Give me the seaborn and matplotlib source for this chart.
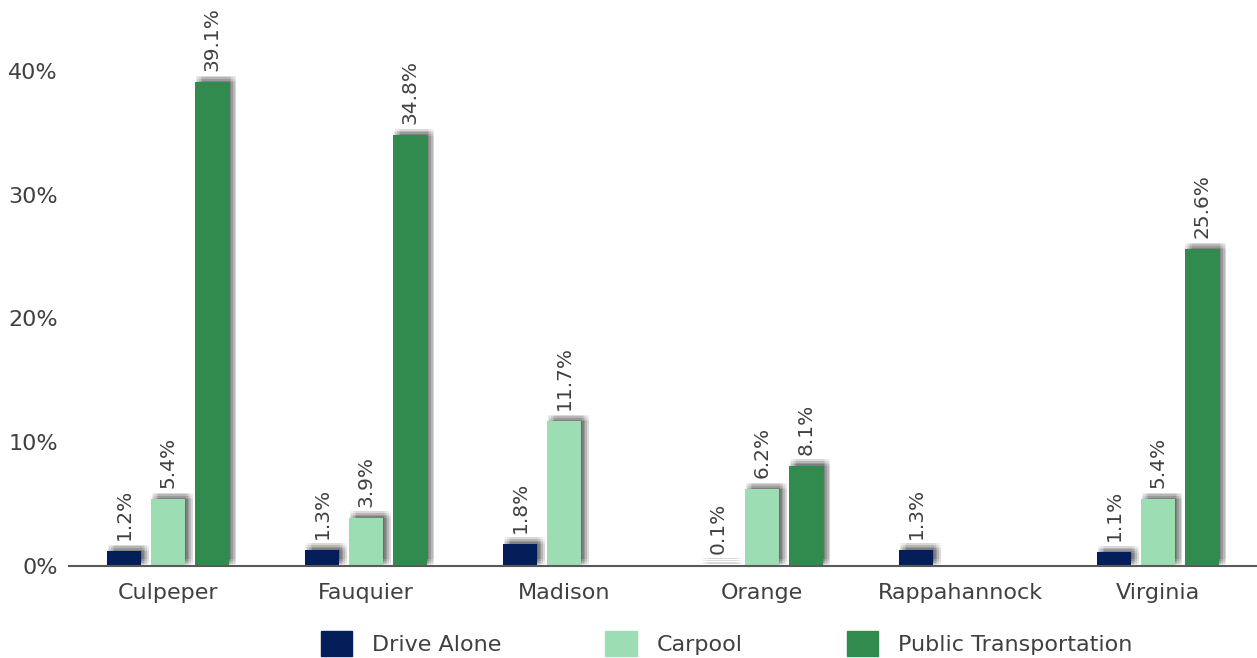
import pandas as pd
import numpy as np
import seaborn as sns
import matplotlib.pyplot as plt
import matplotlib.patheffects as pe

counties = ['Culpeper', 'Fauquier', 'Madison', 'Orange', 'Rappahannock', 'Virginia']
modes = ['Drive Alone', 'Carpool', 'Public Transportation']
drive_alone = [1.2, 1.3, 1.8, 0.1, 1.3, 1.1]
carpool = [5.4, 3.9, 11.7, 6.2, np.nan, 5.4]
public_transport = [39.1, 34.8, np.nan, 8.1, np.nan, 25.6]
colors = ['#041E5A', '#9DDDB3', '#318B4F']

rows = []
for mode, vals in zip(modes, [drive_alone, carpool, public_transport]):
    for c, v in zip(counties, vals):
        if not np.isnan(v):
            rows.append({'County': c, 'Mode': mode, 'Share': v})
df = pd.DataFrame(rows)

sns.set_style('white')
plt.rcParams['font.family'] = ['DejaVu Sans']

fig = plt.figure(figsize=(12.57, 6.58), dpi=100)
ax = fig.add_axes([0.055, 0.14, 0.945, 0.846])

sns.barplot(data=df, x='County', y='Share', hue='Mode', order=counties,
            hue_order=modes, palette=colors, width=0.665, gap=0.22,
            saturation=1, linewidth=0, errorbar=None, ax=ax, legend=True)

# soft drop shadow (up and right): a box blur built from shifted shadow copies
spread = [-2.4, -1.2, 0, 1.2, 2.4]
shadow = [pe.SimplePatchShadow(offset=(2.9 + dx, 2.2 + dy), shadow_rgbFace='k', alpha=0.03)
          for dx in spread for dy in spread]
shadow += [pe.Normal()]
for patch in ax.patches:
    patch.set_path_effects(shadow)

for cont in ax.containers:
    ax.bar_label(cont, labels=[f'{v:.1f}%' for v in cont.datavalues],
                 rotation=90, padding=8, fontsize=14.5, color='#404040')

ax.set_ylim(0, 45)
ax.set_xlim(-0.5, 5.5)
ax.set_yticks([0, 10, 20, 30, 40])
ax.set_yticklabels([f'{t}%' for t in [0, 10, 20, 30, 40]])
ax.tick_params(axis='both', length=0, labelsize=16, colors='#404040')
ax.tick_params(axis='x', pad=12)
ax.tick_params(axis='y', pad=8)
ax.set_xlabel('')
ax.set_ylabel('')
for s in ['top', 'right', 'left']:
    ax.spines[s].set_visible(False)
ax.spines['bottom'].set_color('#595959')
ax.spines['bottom'].set_linewidth(1.5)
ax.spines['bottom'].set_zorder(5)

ax.legend_.remove()
handles = [plt.Rectangle((0, 0), 1, 1, color=c) for c in colors]
fig.legend(handles, modes, loc='center', bbox_to_anchor=(0.578, 0.022),
           ncol=3, frameon=False, fontsize=16, handlelength=1.4,
           handleheight=1.4, handletextpad=0.9, columnspacing=4.7,
           labelcolor='#404040', borderpad=0.1)

plt.savefig('out.png', dpi=100)
